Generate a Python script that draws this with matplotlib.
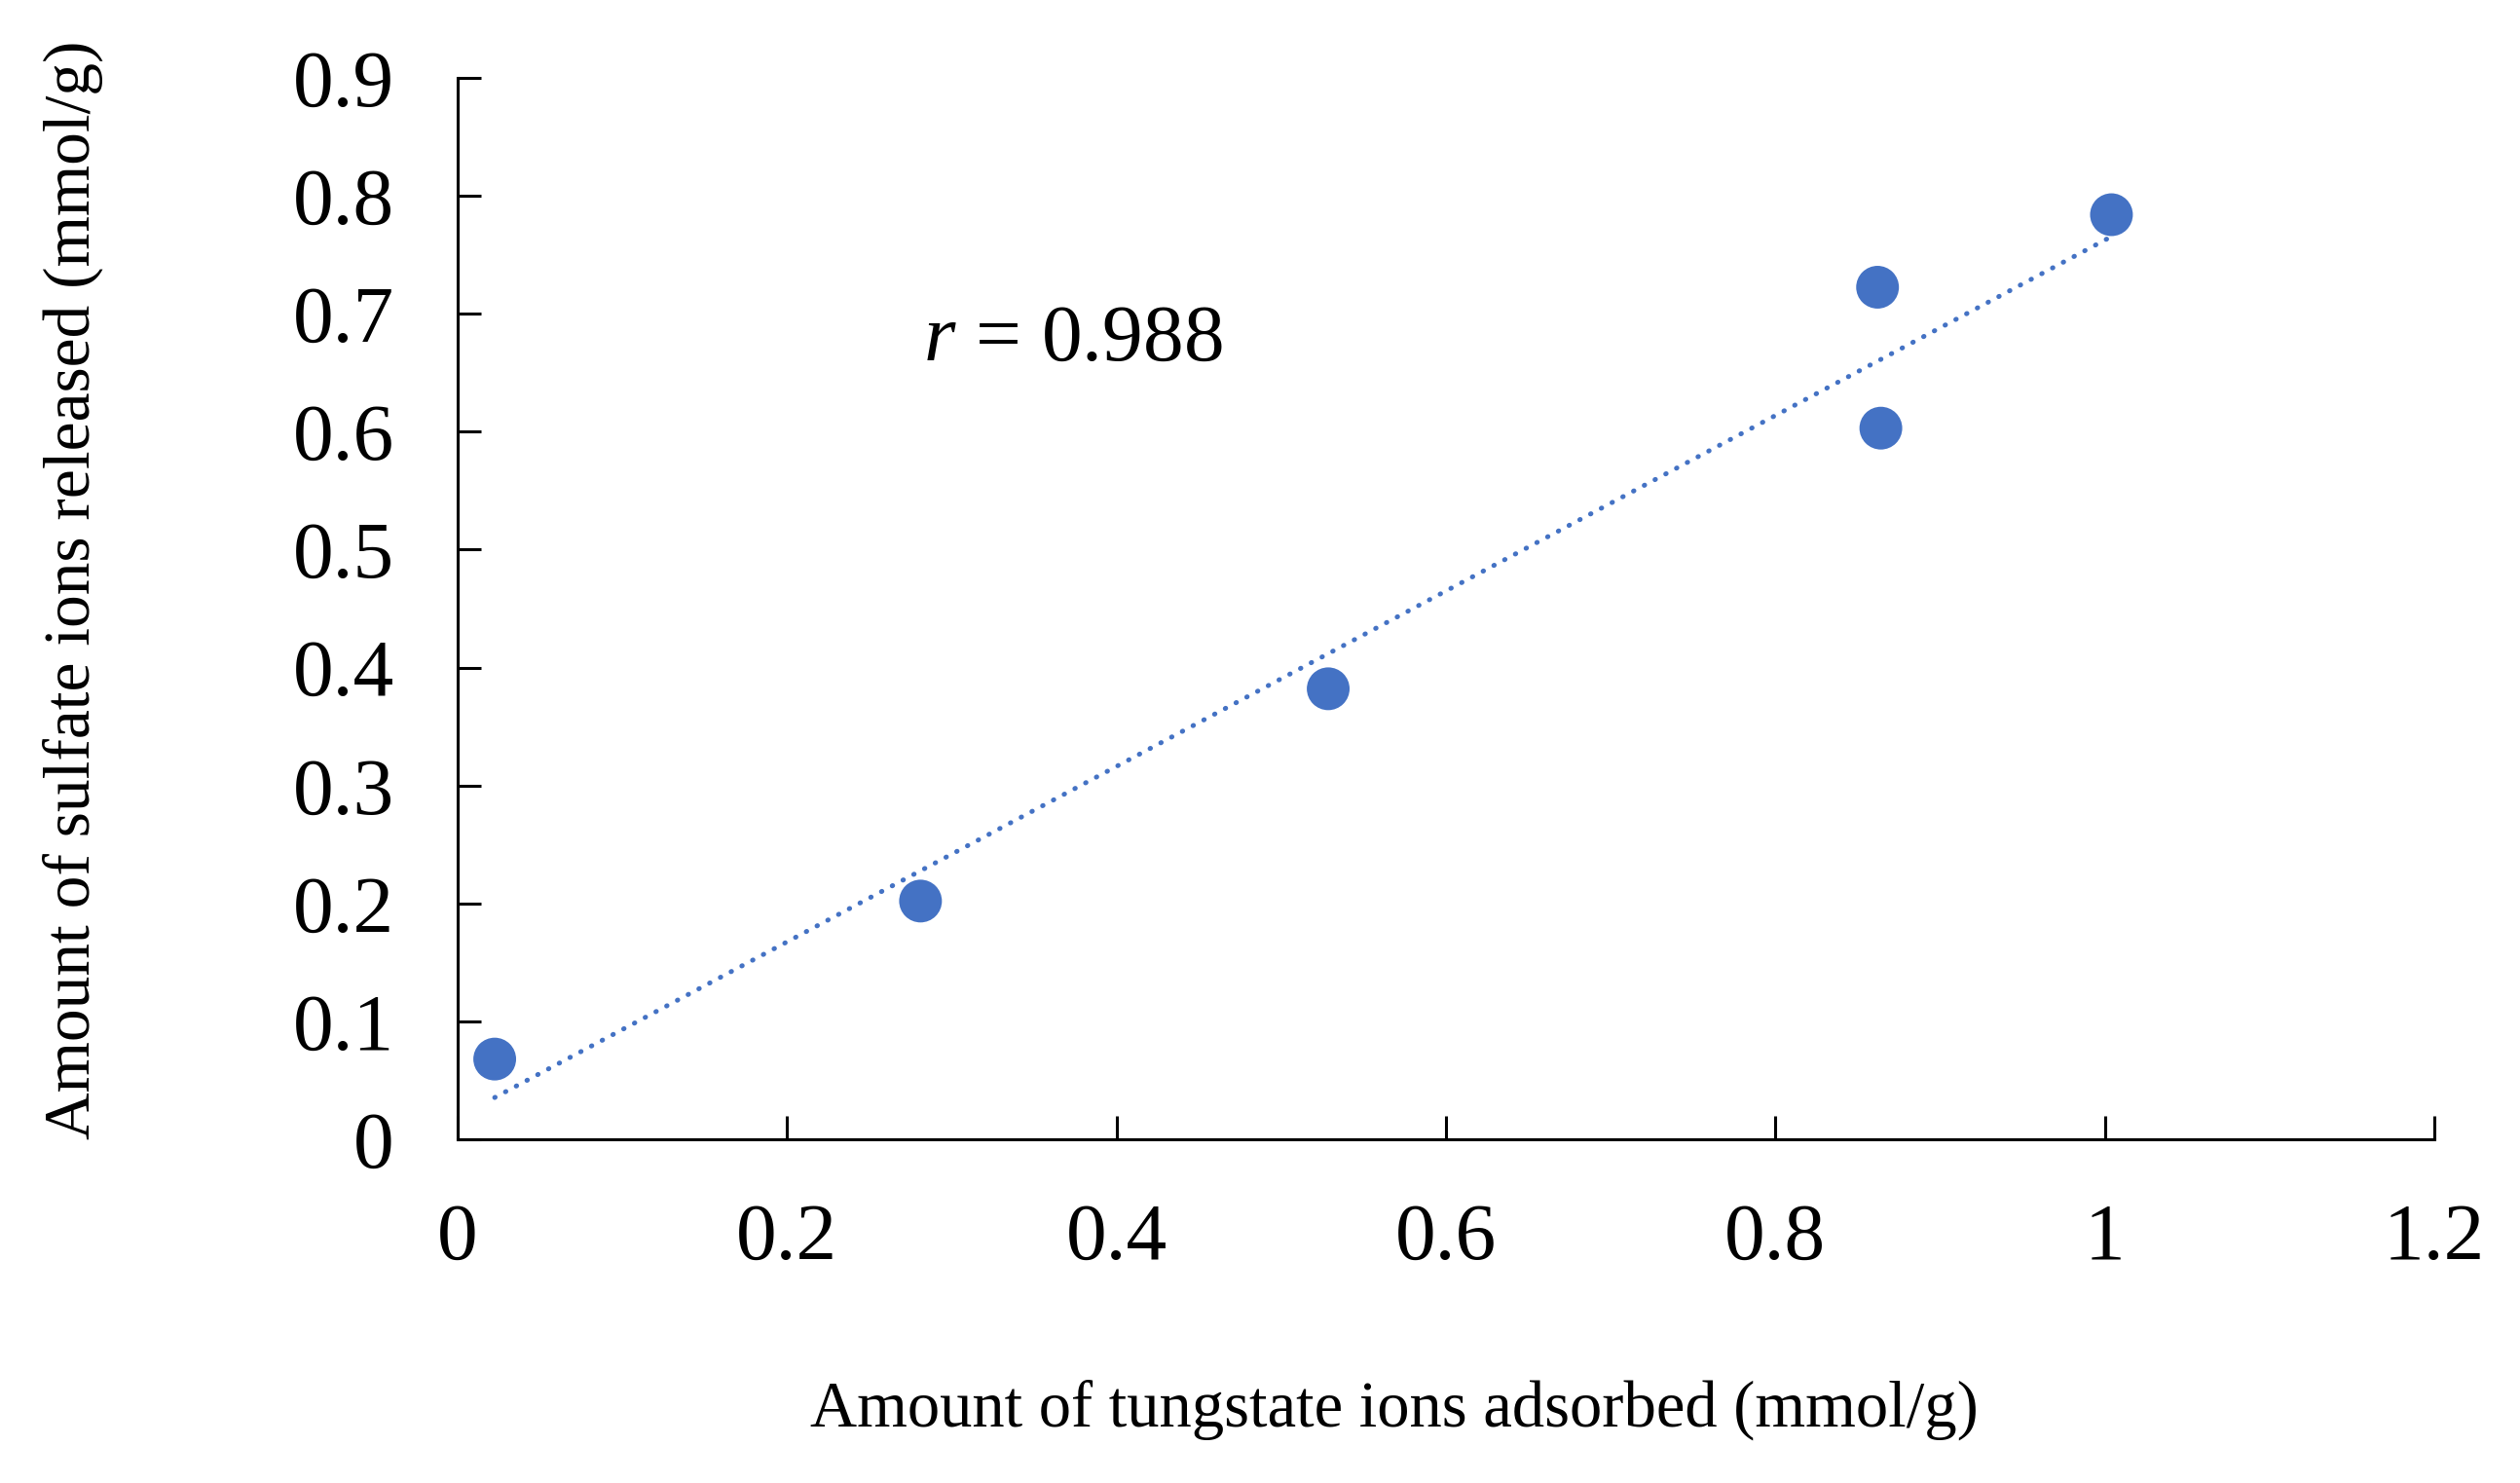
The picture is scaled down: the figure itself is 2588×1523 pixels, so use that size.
import numpy as np
import matplotlib
matplotlib.use("Agg")
import matplotlib.pyplot as plt

plt.rcParams['font.family'] = ['Liberation Serif', 'DejaVu Serif']
plt.rcParams['mathtext.fontset'] = 'custom'
plt.rcParams['mathtext.rm'] = 'Liberation Serif'
plt.rcParams['mathtext.it'] = 'Liberation Serif:italic'

# Data
tungstate_adsorbed = [0.0225, 0.281, 0.5285, 0.862, 0.864, 1.004]
sulfate_released = [0.068, 0.202, 0.382, 0.7225, 0.603, 0.784]
x_ticks = [0, 0.2, 0.4, 0.6, 0.8, 1.0, 1.2]
x_tick_labels = ["0", "0.2", "0.4", "0.6", "0.8", "1", "1.2"]
y_ticks = [0, 0.1, 0.2, 0.3, 0.4, 0.5, 0.6, 0.7, 0.8, 0.9]
y_tick_labels = ["0", "0.1", "0.2", "0.3", "0.4", "0.5", "0.6", "0.7", "0.8", "0.9"]
r_label = "0.988"
x_label = "Amount of tungstate ions adsorbed (mmol/g)"
y_label = "Amount of sulfate ions released (mmol/g)"

color = "#4472C4"

fig = plt.figure(figsize=(25.88, 15.23), dpi=100)
ax = fig.add_axes([470/2588, 1-1170/1523, 2030/2588, 1090/1523])

x = np.array(tungstate_adsorbed)
y = np.array(sulfate_released)
slope, intercept = np.polyfit(x, y, 1)
xl = np.array([x.min(), x.max()])
ax.plot(xl, slope*xl + intercept, color=color, lw=3.6,
        linestyle=(0, (0.1, 2.4)), dash_capstyle='round', zorder=2)
ax.scatter(x, y, s=1000, color=color, edgecolors='none', zorder=3, clip_on=False)

ax.set_xlim(0, 1.2)
ax.set_ylim(0, 0.9)
ax.set_xticks(x_ticks)
ax.set_xticklabels(x_tick_labels)
ax.set_yticks(y_ticks)
ax.set_yticklabels(y_tick_labels)

for s in ['top', 'right']:
    ax.spines[s].set_visible(False)
for s in ['left', 'bottom']:
    ax.spines[s].set_linewidth(2.2)
ax.tick_params(direction='in', length=17, width=2.2, labelsize=60, pad=47)

ax.set_xlabel(x_label, fontsize=48, va='center')
ax.xaxis.set_label_coords(0.474, -0.255)
ax.set_ylabel(y_label, fontsize=48.5, va='center', ha='center')
ax.yaxis.set_label_coords(-0.1946, 0.5175)

ax.text(0.2825, 0.661, r"$r$ = " + r_label, fontsize=60, ha='left', va='baseline')

fig.savefig("out.png", dpi=100)
